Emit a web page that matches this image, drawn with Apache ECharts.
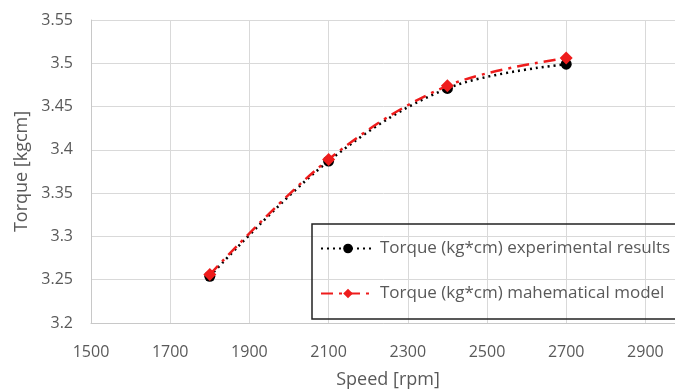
<!DOCTYPE html>
<html>
<head>
<meta charset="utf-8">
<script src="https://cdn.jsdelivr.net/npm/echarts@6/dist/echarts.min.js"></script>
<style>
  html, body { margin: 0; padding: 0; background: #fff; }
  #chart { width: 675px; height: 392px; }
</style>
</head>
<body>
<div id="chart"></div>
<script>
// speed [rpm]
const speeds = [1800, 2100, 2400, 2700]
// torque (kg*cm)
const experimental = [3.254, 3.387, 3.471, 3.499]
const mathModel = [3.256, 3.389, 3.474, 3.506]

const seriesNames = [
  'Torque (kg*cm) experimental results',
  'Torque (kg*cm) mahematical model',
]

const font = '"Open Sans", sans-serif'
const grey = '#595959'

const chart = echarts.init(document.getElementById('chart'))

const toPairs = (ys) => speeds.map((x, i) => [x, ys[i]])

const option = {
  animation: false,
  textStyle: { fontFamily: font },
  grid: { left: 91, top: 20, height: 303, width: 594, outerBoundsMode: 'none', containLabel: false },
  legend: {
    orient: 'vertical',
    left: 312,
    top: 224,
    itemWidth: 54,
    itemHeight: 12,
    itemGap: 28,
    padding: [16, 40, 17, 8],
    borderColor: '#222',
    borderWidth: 1.5,
    textStyle: { color: grey, fontSize: 17, fontFamily: font },
    data: seriesNames,
  },
  xAxis: {
    type: 'value',
    min: 1500,
    max: 3000,
    interval: 200,
    name: 'Speed [rpm]',
    nameLocation: 'middle',
    nameGap: 48,
    nameTextStyle: { color: grey, fontSize: 18, fontFamily: font },
    axisLine: { show: true, lineStyle: { color: '#c8c8c8' } },
    axisTick: { show: false },
    axisLabel: {
      color: grey,
      fontSize: 16,
      margin: 21,
      showMaxLabel: false,
      formatter: (v) => String(v),
    },
    splitLine: { show: true, lineStyle: { color: '#d9d9d9' } },
  },
  yAxis: {
    type: 'value',
    min: 3.2,
    max: 3.55,
    interval: 0.05,
    name: 'Torque [kgcm]',
    nameLocation: 'middle',
    nameGap: 60,
    nameTextStyle: { color: grey, fontSize: 18, fontFamily: font },
    axisLine: { show: true, lineStyle: { color: '#c8c8c8' } },
    axisTick: { show: false },
    axisLabel: {
      color: grey,
      fontSize: 16,
      margin: 18,
      formatter: (v) => String(parseFloat(v.toFixed(2))),
    },
    splitLine: { show: true, lineStyle: { color: '#d9d9d9' } },
  },
  series: [
    {
      name: seriesNames[0],
      type: 'line',
      smooth: 0.35,
      data: toPairs(experimental),
      symbol: 'circle',
      symbolSize: 11,
      itemStyle: { color: '#000' },
      lineStyle: { color: '#000', width: 2.5, type: [2, 4] },
      z: 2,
    },
    {
      name: seriesNames[1],
      type: 'line',
      smooth: 0.35,
      data: toPairs(mathModel),
      symbol: 'diamond',
      symbolSize: 13,
      itemStyle: { color: '#ee1c1c' },
      lineStyle: { color: '#ee1c1c', width: 2.5, type: [12, 6, 3, 6] },
      z: 3,
    },
  ],
}

chart.setOption(option)
</script>
</body>
</html>
